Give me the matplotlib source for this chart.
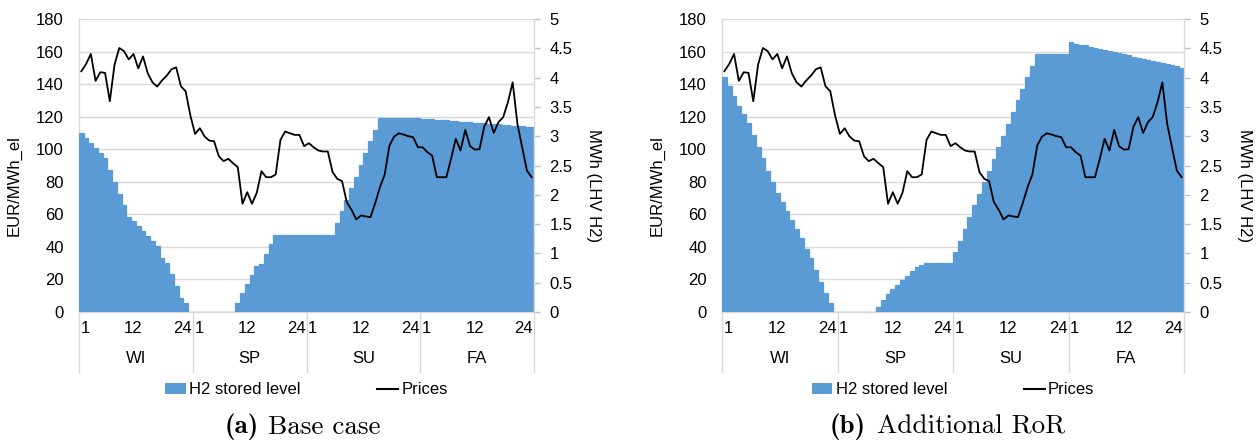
import matplotlib
matplotlib.use("Agg")
import matplotlib.pyplot as plt
import matplotlib.transforms as mtransforms
from matplotlib.patches import Patch
from matplotlib.lines import Line2D
import numpy as np

# ---------------- data ----------------
seasons = ["WI", "SP", "SU", "FA"]
hours_per_season = 24
hour_tick_hours = [1, 12, 24]
hour_tick_labels = ["1", "12", "24"]

# electricity prices (EUR/MWh_el), identical in both cases
prices = [
    # WI
    147.9, 152.4, 158.5, 142.0, 147.3, 146.9, 129.5, 152.0, 162.2, 160.2, 155.2, 158.5,
    149.7, 157.0, 146.7, 141.1, 138.5, 142.2, 145.2, 149.1, 150.3, 138.7, 135.6, 120.7,
    # SP
    109.4, 112.9, 107.8, 105.3, 104.9, 95.7, 92.7, 94.1, 91.4, 89.0, 66.5, 73.6,
    66.5, 73.2, 86.5, 82.8, 82.8, 84.5, 105.7, 110.9, 109.8, 108.8, 108.8, 101.9,
    # SU
    103.7, 101.2, 99.2, 98.6, 98.6, 85.9, 81.8, 80.4, 67.5, 62.8, 56.9, 59.3,
    58.7, 58.3, 66.9, 76.7, 84.5, 102.3, 107.8, 109.8, 109.0, 108.0, 107.4, 101.2,
    # FA
    101.2, 98.2, 96.1, 82.8, 82.8, 82.8, 94.1, 106.4, 99.2, 111.9, 101.9, 99.8,
    100.0, 113.9, 119.7, 110.0, 116.6, 119.7, 128.9, 141.1, 115.6, 101.2, 86.9, 82.8,
]

# H2 stored level (MWh, LHV H2) - base case
storage_base = [
    # WI
    3.06, 2.97, 2.88, 2.80, 2.71, 2.62, 2.43, 2.22, 2.02, 1.82, 1.62, 1.55,
    1.47, 1.38, 1.30, 1.22, 1.13, 0.93, 0.84, 0.64, 0.44, 0.24, 0.15, 0.00,
    # SP
    0.00, 0.00, 0.00, 0.00, 0.00, 0.00, 0.00, 0.00, 0.00, 0.15, 0.32, 0.48,
    0.63, 0.79, 0.82, 0.99, 1.16, 1.32, 1.32, 1.32, 1.32, 1.32, 1.32, 1.32,
    # SU
    1.32, 1.32, 1.32, 1.32, 1.32, 1.32, 1.52, 1.72, 1.91, 2.11, 2.31, 2.51,
    2.71, 2.91, 3.11, 3.31, 3.31, 3.31, 3.31, 3.31, 3.31, 3.31, 3.31, 3.31,
    # FA
    3.30, 3.29, 3.29, 3.28, 3.27, 3.27, 3.26, 3.26, 3.25, 3.24, 3.24, 3.23,
    3.22, 3.22, 3.21, 3.20, 3.20, 3.19, 3.19, 3.18, 3.17, 3.17, 3.16, 3.16,
]

# H2 stored level (MWh, LHV H2) - additional RoR
storage_ror = [
    # WI
    4.01, 3.86, 3.68, 3.52, 3.375, 3.22, 3.02, 2.82, 2.62, 2.41, 2.22, 2.03,
    1.88, 1.73, 1.57, 1.42, 1.27, 1.07, 0.92, 0.71, 0.51, 0.32, 0.16, 0.00,
    # SP
    0.00, 0.00, 0.00, 0.00, 0.00, 0.00, 0.00, 0.00, 0.08, 0.20, 0.30, 0.39,
    0.46, 0.55, 0.62, 0.70, 0.76, 0.81, 0.83, 0.83, 0.83, 0.83, 0.83, 0.83,
    # SU
    1.02, 1.22, 1.42, 1.62, 1.82, 2.02, 2.22, 2.41, 2.61, 2.81, 3.01, 3.21,
    3.41, 3.61, 3.81, 4.01, 4.20, 4.40, 4.40, 4.40, 4.40, 4.40, 4.40, 4.40,
    # FA
    4.60, 4.58, 4.56, 4.55, 4.53, 4.51, 4.49, 4.47, 4.45, 4.43, 4.42, 4.40,
    4.38, 4.36, 4.34, 4.32, 4.30, 4.28, 4.27, 4.25, 4.23, 4.21, 4.19, 4.17,
]

panel_tags = ["(a)", "(b)"]
panel_titles = ["Base case", "Additional RoR"]
series_names = ["H2 stored level", "Prices"]
left_label = "EUR/MWh_el"
right_label = "MWh (LHV H2)"

# ---------------- style ----------------
BLUE = "#5B9BD5"
GRID = "#d9d9d9"
FS = 12
plt.rcParams["font.family"] = ["Liberation Sans", "DejaVu Sans"]

W, H = 1257, 441
fig = plt.figure(figsize=(W / 100, H / 100), dpi=100)

# axes rectangles in pixels: (left, right, top, bottom)
rects = [(79, 534, 19, 312), (722, 1184, 19, 312)]
caption_split = [(259, 268), (866, 877)]


def draw_panel(rect, storage, tag, title, split):
    l, r, t, b = rect
    ax = fig.add_axes([l / W, 1 - b / H, (r - l) / W, (b - t) / H])
    ax2 = ax.twinx()
    ax3 = ax.twinx()
    n = len(prices)
    x = np.arange(n)

    # base axis: gridlines + left ticks
    ax.set_xlim(-0.5, n - 0.5)
    ax.set_ylim(0, 180)
    ax.set_yticks(np.arange(0, 181, 20))
    ax.yaxis.grid(True, color=GRID, linewidth=1.0)
    ax.set_axisbelow(True)
    ax.tick_params(axis="y", length=0, pad=11, labelsize=FS)
    ax.set_xticks([])
    for s in ["top", "right"]:
        ax.spines[s].set_visible(False)
    for s in ["left", "bottom"]:
        ax.spines[s].set_color(GRID)
        ax.spines[s].set_linewidth(1.0)
    ax.set_ylabel(left_label, fontsize=FS)
    ax.yaxis.set_label_coords(-0.125, 0.43)

    # storage bars on the right axis
    ax2.bar(x, storage, width=1.0, color=BLUE, edgecolor=BLUE, linewidth=0.9, zorder=2)
    ax2.set_ylim(0, 5)
    ax2.set_yticks(np.arange(0, 5.01, 0.5))
    ax2.set_yticklabels(["%g" % v for v in np.arange(0, 5.01, 0.5)])
    ax2.tick_params(axis="y", length=4, width=1, color="#bfbfbf", pad=7, labelsize=FS)
    for s in ["top", "left", "bottom"]:
        ax2.spines[s].set_visible(False)
    ax2.spines["right"].set_color(GRID)
    ax2.spines["right"].set_linewidth(1.0)
    ax2.set_ylabel(right_label, fontsize=FS, rotation=270, va="center")
    ax2.yaxis.set_label_coords(1.13, 0.43)
    ax2.set_xlim(-0.5, n - 0.5)

    # price line on top
    ax3.plot(x, prices, color="black", linewidth=1.3, zorder=3)
    ax3.set_ylim(0, 180)
    ax3.set_xlim(-0.5, n - 0.5)
    ax3.axis("off")

    # category axis: hours + seasons + separators
    trans = mtransforms.blended_transform_factory(ax.transData, ax.transAxes)
    for i, season in enumerate(seasons):
        start = i * hours_per_season
        for hh, lab in zip(hour_tick_hours, hour_tick_labels):
            xpos = start + hh - 1
            if hh == 1:
                ax.text(xpos - 0.15, -0.055, lab, transform=trans, ha="left", va="center", fontsize=FS)
            elif hh == hours_per_season:
                ax.text(xpos + 0.3, -0.055, lab, transform=trans, ha="right", va="center", fontsize=FS)
            else:
                ax.text(xpos, -0.055, lab, transform=trans, ha="center", va="center", fontsize=FS)
        ax.text(start + hours_per_season / 2 - 0.5, -0.16, season, transform=trans,
                ha="center", va="center", fontsize=FS)
    for k in range(len(seasons) + 1):
        xb = k * hours_per_season - 0.5
        ax.plot([xb, xb], [0, -0.205], transform=trans, color=GRID, linewidth=1.0, clip_on=False)

    handles = [Patch(facecolor=BLUE, edgecolor="none"), Line2D([], [], color="black", linewidth=1.5)]
    ax3.legend(handles, series_names, loc="center", bbox_to_anchor=(0.5, -0.266),
               ncol=2, frameon=False, handlelength=1.25, handletextpad=0.2,
               columnspacing=4.6, fontsize=FS, borderaxespad=0, borderpad=0)

    yc = 1 - 427 / H
    fig.text(split[0] / W, yc, tag, family="cmb10", fontsize=19.5, ha="right", va="center")
    fig.text(split[1] / W, yc, title, family="cmr10", fontsize=19.5, ha="left", va="center")


draw_panel(rects[0], storage_base, panel_tags[0], panel_titles[0], caption_split[0])
draw_panel(rects[1], storage_ror, panel_tags[1], panel_titles[1], caption_split[1])

fig.savefig("out.png", dpi=100)
